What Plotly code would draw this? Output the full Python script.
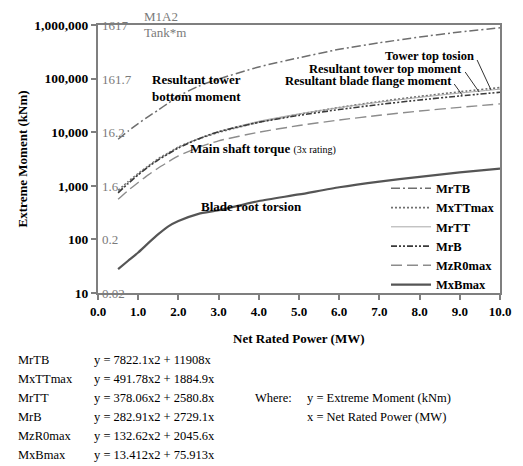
import plotly.graph_objects as go

# ---------------- data ----------------
power_mw = [0.5, 0.75, 1.0, 1.25, 1.5, 1.75, 2.0, 2.5, 3.0, 4.0, 5.0, 6.0, 7.0, 8.0, 9.0, 10.0]

MrTB    = [7400, 10500, 14500, 19500, 26000, 35000, 47000, 72000, 98000, 165000, 245000, 352000, 466000, 596000, 740000, 885000]
MxTTmax = [820, 1200, 1700, 2350, 3200, 4100, 5300, 7500, 9900, 15300, 21600, 29000, 37300, 46500, 56800, 68000]
MrTT    = [780, 1150, 1650, 2300, 3100, 4000, 5200, 7600, 10300, 16000, 22000, 28800, 36300, 44600, 53700, 63500]
MrB     = [740, 1100, 1600, 2250, 3050, 3950, 5100, 7500, 10200, 15300, 20600, 26500, 32900, 39900, 47400, 55600]
MzR0max = [560, 820, 1150, 1600, 2150, 2800, 3600, 5200, 6900, 10000, 13300, 16900, 20700, 24800, 29100, 33700]
MxBmax  = [28, 40, 57, 85, 125, 175, 220, 300, 350, 520, 690, 940, 1200, 1470, 1780, 2100]

series_names = ["MrTB", "MxTTmax", "MrTT", "MrB", "MzR0max", "MxBmax"]
series_values = [MrTB, MxTTmax, MrTT, MrB, MzR0max, MxBmax]

y_tick_vals = [10, 100, 1000, 10000, 100000, 1000000]
y_tick_text = ["10", "100", "1,000", "10,000", "100,000", "1,000,000"]
x_tick_vals = [0, 1, 2, 3, 4, 5, 6, 7, 8, 9, 10]

tank_labels = ["0.02", "0.2", "1.6", "16.2", "161.7", "1617"]

equations = [
    ("MrTB", "y = 7822.1x2 + 11908x"),
    ("MxTTmax", "y = 491.78x2 + 1884.9x"),
    ("MrTT", "y = 378.06x2 + 2580.8x"),
    ("MrB", "y = 282.91x2 + 2729.1x"),
    ("MzR0max", "y = 132.62x2 + 2045.6x"),
    ("MxBmax", "y = 13.412x2 + 75.913x"),
]

# ---------------- styles ----------------
FONT = "Liberation Serif"
W, H = 523, 466
L, R, T, B = 98, 502, 25, 293

styles = {
    "MrTB":    dict(color="#6e6e6e", width=1.5, dash="9px,3px,2px,3px"),
    "MxTTmax": dict(color="#707070", width=1.6, dash="2px,2px"),
    "MrTT":    dict(color="#a8a8a8", width=1.0, dash="solid"),
    "MrB":     dict(color="#3a3a3a", width=1.6, dash="6px,2px,2px,2px,2px,2px"),
    "MzR0max": dict(color="#8c8c8c", width=1.4, dash="11px,5px"),
    "MxBmax":  dict(color="#555555", width=2.2, dash="solid"),
}

def px(x):
    return (x - L) / (R - L)

def py(y):
    return (B - y) / (B - T)

fig = go.Figure()
for name, vals in zip(series_names, series_values):
    fig.add_trace(go.Scatter(
        x=power_mw, y=vals, name=name, mode="lines",
        line=dict(shape="spline", smoothing=0.6, **styles[name]),
    ))

ann = []
def text(x, y, s, size=13, color="black", xanchor="left", bold=False, angle=0):
    ann.append(dict(
        x=px(x), y=py(y), xref="paper", yref="paper",
        text=("<b>%s</b>" % s) if bold else s, showarrow=False,
        xanchor=xanchor, yanchor="middle", textangle=angle,
        font=dict(family=FONT, size=size, color=color),
    ))

# gray secondary scale labels inside the plot
tank_y = [293, 239, 186, 132, 79, 25]
for lab, yy in zip(tank_labels, tank_y):
    text(100, yy, lab, size=13, color="#7a7a7a")
text(142, 16, "M1A2", size=13, color="#7a7a7a")
text(142, 33, "Tank*m", size=13, color="#7a7a7a")

# curve labels
text(150, 79, "Resultant tower", bold=True)
text(150, 96, "bottom moment", bold=True)
text(188, 148, "Main shaft torque <span style='font-size:10px;font-weight:normal'>(3x rating)</span>", bold=True)
text(200, 206, "Blade root torsion", bold=True)
text(478, 56, "Tower top tosion", bold=True, xanchor="right", size=12.5)
text(466, 69, "Resultant tower top moment", bold=True, xanchor="right", size=12.5)
text(456, 81, "Resultant blade flange moment", bold=True, xanchor="right", size=12.5)

# axis titles
text(22, 159, "Extreme Moment (kNm)", bold=True, xanchor="center", angle=-90)
text(300, 338, "Net Rated Power (MW)", bold=True, xanchor="center")

# equations block
rows_y = [360, 379, 398, 417, 436, 455]
for (nm, eq), yy in zip(equations, rows_y):
    text(16, yy, nm, size=12.5)
    text(92, yy, eq, size=12.5)
text(254, rows_y[2], "Where:", size=12.5)
text(306, rows_y[2], "y = Extreme Moment (kNm)", size=12.5)
text(306, rows_y[3], "x = Net Rated Power (MW)", size=12.5)

shapes = []
for (x0, y0, x1, y1) in [(479, 60, 493, 90), (467, 72, 481, 92), (456, 84, 464, 95)]:
    shapes.append(dict(type="line", xref="paper", yref="paper",
                       x0=px(x0), y0=py(y0), x1=px(x1), y1=py(y1),
                       line=dict(color="#333333", width=1)))

fig.update_layout(
    width=W, height=H,
    margin=dict(l=L, r=W - R, t=T, b=H - B, pad=0),
    paper_bgcolor="white", plot_bgcolor="white",
    font=dict(family=FONT, size=13, color="black"),
    showlegend=True,
    legend=dict(
        x=1.0, xanchor="right", y=-0.025, yanchor="bottom",
        bgcolor="rgba(0,0,0,0)", borderwidth=0,
        font=dict(family=FONT, size=12.5, color="black", weight="bold"),
        itemwidth=40, tracegroupgap=0,
    ),
    annotations=ann,
    shapes=shapes,
)

fig.update_xaxes(
    range=[0, 10], tickvals=x_tick_vals, tickformat=".1f",
    showgrid=False, zeroline=False,
    showline=True, linecolor="#7f7f7f", linewidth=2, mirror=True,
    ticks="outside", ticklen=5, tickwidth=1.5, tickcolor="#7f7f7f",
    tickfont=dict(family=FONT, size=13, color="black", weight="bold"),
)
fig.update_yaxes(
    type="log", range=[1, 6], tickvals=y_tick_vals, ticktext=y_tick_text,
    showgrid=False, zeroline=False,
    showline=True, linecolor="#7f7f7f", linewidth=2, mirror=True,
    ticks="outside", ticklen=5, tickwidth=1.5, tickcolor="#7f7f7f",
    tickfont=dict(family=FONT, size=13.5, color="black", weight="bold"),
)

fig.write_html(
    "out.html",
    config={"displayModeBar": False},
    post_script="document.body.style.margin='0';document.body.style.overflow='hidden';",
)
